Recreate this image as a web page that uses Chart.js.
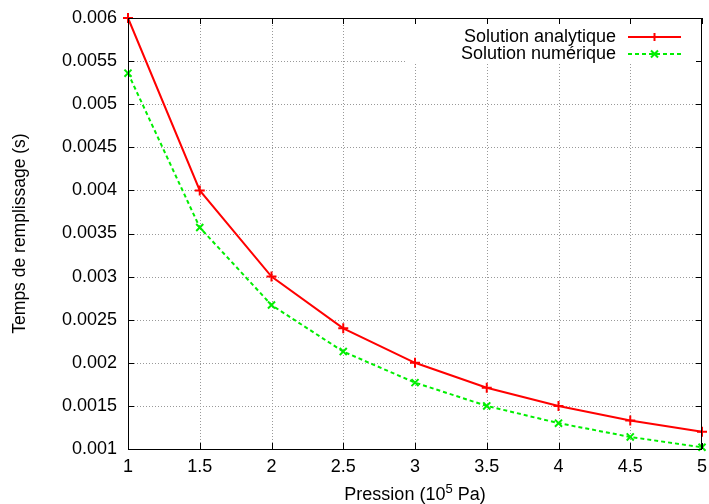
<!DOCTYPE html>
<html>
<head>
<meta charset="utf-8">
<script src="https://cdn.jsdelivr.net/npm/chart.js@4"></script>
<style>
  html, body { margin: 0; padding: 0; background: #fff; }
  #wrap { width: 709px; height: 504px; }
</style>
</head>
<body>
<div id="wrap"><canvas id="chart" width="709" height="504"></canvas></div>
<script>
// Temps de remplissage vs pression
const pressions = [1, 1.5, 2, 2.5, 3, 3.5, 4, 4.5, 5];
const analytique = [0.006, 0.004, 0.003, 0.0024, 0.002, 0.00171, 0.0015, 0.00133, 0.0012];
const numerique = [0.00536, 0.00357, 0.00267, 0.00213, 0.00177, 0.0015, 0.0013, 0.00114, 0.00102];
const xTicks = [1, 1.5, 2, 2.5, 3, 3.5, 4, 4.5, 5];
const yTicks = [0.001, 0.0015, 0.002, 0.0025, 0.003, 0.0035, 0.004, 0.0045, 0.005, 0.0055, 0.006];

const FONT = '"Liberation Sans", Arial, sans-serif';
const FS = 18;
const RED = '#ff0000';
const GREEN = '#00ee00';

function toPoints(ys) {
  return pressions.map((p, i) => ({ x: p, y: ys[i] }));
}

// gnuplot-like grid, frame, inward ticks, legend and axis titles
const gnuplotFrame = {
  id: 'gnuplotFrame',
  beforeDatasetsDraw(chart) {
    const { ctx, chartArea: a, scales } = chart;
    ctx.save();
    ctx.strokeStyle = '#999';
    ctx.lineWidth = 1;
    ctx.setLineDash([1, 2]);
    ctx.beginPath();
    xTicks.slice(1, -1).forEach(v => {
      const x = Math.round(scales.x.getPixelForValue(v)) + 0.5;
      ctx.moveTo(x, a.bottom); ctx.lineTo(x, a.top);
    });
    yTicks.slice(1, -1).forEach(v => {
      const y = Math.round(scales.y.getPixelForValue(v)) + 0.5;
      ctx.moveTo(a.left, y); ctx.lineTo(a.right, y);
    });
    ctx.stroke();
    ctx.setLineDash([]);
    // legend area hides the grid
    ctx.fillStyle = '#fff';
    ctx.fillRect(405, a.top + 1, a.right - 406, 45);
    ctx.restore();
  },
  afterDraw(chart) {
    const { ctx, chartArea: a, scales } = chart;
    ctx.save();
    ctx.strokeStyle = '#000';
    ctx.lineWidth = 1;
    ctx.strokeRect(a.left + 0.5, a.top + 0.5, a.right - a.left - 1, a.bottom - a.top);
    ctx.beginPath();
    xTicks.forEach(v => {
      const x = Math.round(scales.x.getPixelForValue(v)) + 0.5;
      ctx.moveTo(x, a.bottom); ctx.lineTo(x, a.bottom - 6);
      ctx.moveTo(x, a.top); ctx.lineTo(x, a.top + 6);
    });
    yTicks.forEach(v => {
      const y = Math.round(scales.y.getPixelForValue(v)) + 0.5;
      ctx.moveTo(a.left, y); ctx.lineTo(a.left + 6, y);
      ctx.moveTo(a.right, y); ctx.lineTo(a.right - 6, y);
    });
    ctx.stroke();

    // legend
    ctx.font = FS + 'px ' + FONT;
    ctx.textAlign = 'right';
    ctx.textBaseline = 'middle';
    const rows = [
      { label: 'Solution analytique', color: RED, dash: [], style: 'cross', y: 37 },
      { label: 'Solution numérique', color: GREEN, dash: [4, 3], style: 'crossRot', y: 54 }
    ];
    rows.forEach(r => {
      ctx.fillStyle = '#000';
      ctx.fillText(r.label, 616, r.y);
      ctx.strokeStyle = r.color;
      ctx.lineWidth = 2;
      ctx.setLineDash(r.dash);
      ctx.beginPath();
      ctx.moveTo(628, r.y); ctx.lineTo(681, r.y);
      ctx.stroke();
      ctx.setLineDash([]);
      ctx.beginPath();
      if (r.style === 'cross') {
        ctx.moveTo(654.5, r.y - 4); ctx.lineTo(654.5, r.y + 4);
        ctx.moveTo(650.5, r.y); ctx.lineTo(658.5, r.y);
      } else {
        ctx.moveTo(651, r.y - 3.5); ctx.lineTo(658, r.y + 3.5);
        ctx.moveTo(651, r.y + 3.5); ctx.lineTo(658, r.y - 3.5);
      }
      ctx.stroke();
    });

    // x title with superscript
    ctx.fillStyle = '#000';
    ctx.textAlign = 'left';
    ctx.textBaseline = 'alphabetic';
    const parts = ['Pression (10', '5', ' Pa)'];
    ctx.font = FS + 'px ' + FONT;
    const w0 = ctx.measureText(parts[0]).width;
    const w2 = ctx.measureText(parts[2]).width;
    ctx.font = '13px ' + FONT;
    const w1 = ctx.measureText(parts[1]).width;
    const x = (a.left + a.right) / 2 - (w0 + w1 + w2) / 2;
    const base = 500;
    ctx.font = FS + 'px ' + FONT;
    ctx.fillText(parts[0], x, base);
    ctx.font = '13px ' + FONT;
    ctx.fillText(parts[1], x + w0, base - 7);
    ctx.font = FS + 'px ' + FONT;
    ctx.fillText(parts[2], x + w0 + w1, base);

    // y title
    ctx.translate(20, (a.top + a.bottom) / 2);
    ctx.rotate(-Math.PI / 2);
    ctx.textAlign = 'center';
    ctx.textBaseline = 'middle';
    ctx.font = '17.5px ' + FONT;
    ctx.fillText('Temps de remplissage (s)', 0, 0);
    ctx.restore();
  }
};

new Chart(document.getElementById('chart'), {
  type: 'line',
  data: {
    datasets: [
      {
        label: 'Solution analytique',
        data: toPoints(analytique),
        borderColor: RED,
        backgroundColor: RED,
        borderWidth: 2,
        pointStyle: 'cross',
        pointRadius: 5,
        pointBorderWidth: 2,
        tension: 0,
        clip: false
      },
      {
        label: 'Solution numérique',
        data: toPoints(numerique),
        borderColor: GREEN,
        backgroundColor: GREEN,
        borderWidth: 2,
        borderDash: [4, 3],
        pointStyle: 'crossRot',
        pointRadius: 5,
        pointBorderWidth: 2,
        tension: 0,
        clip: false
      }
    ]
  },
  options: {
    responsive: false,
    animation: false,
    events: [],
    layout: { padding: { top: 18, right: 6, left: 0, bottom: 0 } },
    plugins: {
      legend: { display: false },
      tooltip: { enabled: false }
    },
    scales: {
      x: {
        type: 'linear',
        min: 1,
        max: 5,
        afterFit(scale) {
          scale.height = 55;
          scale.paddingLeft = 0;
          scale.paddingRight = 0;
        },
        afterBuildTicks(scale) { scale.ticks = xTicks.map(v => ({ value: v })); },
        grid: { display: false, drawTicks: false },
        border: { display: false },
        ticks: {
          padding: 7,
          color: '#000',
          font: { family: FONT, size: FS },
          maxRotation: 0,
          callback: v => String(v)
        }
      },
      y: {
        min: 0.001,
        max: 0.006,
        afterFit(scale) {
          scale.width = 128;
          scale.paddingTop = 0;
          scale.paddingBottom = 0;
        },
        afterBuildTicks(scale) { scale.ticks = yTicks.map(v => ({ value: v })); },
        grid: { display: false, drawTicks: false },
        border: { display: false },
        ticks: {
          padding: 11,
          color: '#000',
          font: { family: FONT, size: FS },
          callback: v => String(+v.toFixed(4))
        }
      }
    }
  },
  plugins: [gnuplotFrame]
});
</script>
</body>
</html>
